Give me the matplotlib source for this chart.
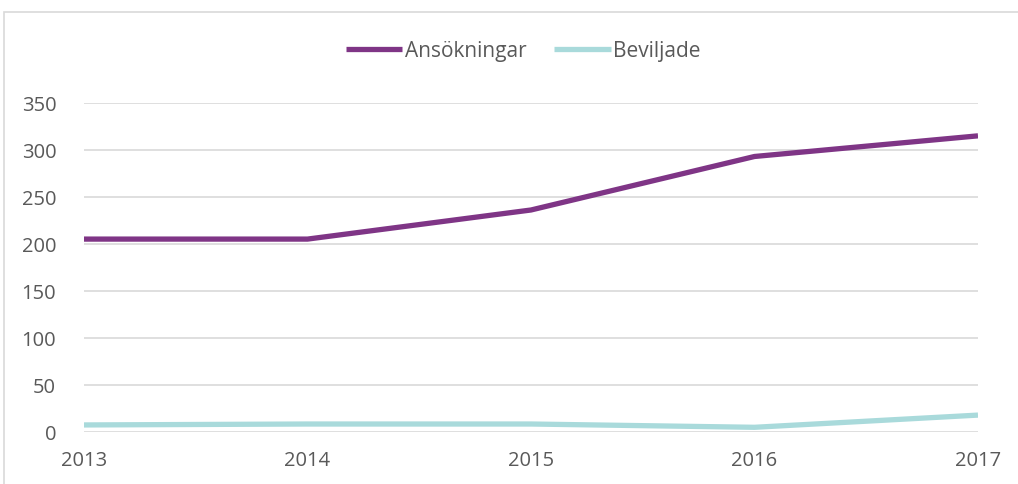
import matplotlib
matplotlib.use("Agg")
import matplotlib.pyplot as plt
from matplotlib.patches import Rectangle

years = ["2013", "2014", "2015", "2016", "2017"]
ansokningar = [205, 205, 236, 293, 315]
beviljade = [7, 8, 8, 4.5, 17.5]
yticks = [0, 50, 100, 150, 200, 250, 300, 350]

plt.rcParams['font.family'] = ['Open Sans', 'DejaVu Sans']
text_color = "#595959"

fig = plt.figure(figsize=(10.18, 4.85), dpi=100)
ax = fig.add_axes([0.0825, 0.1082, 0.9607 - 0.0825, 0.7856 - 0.1082])

x = list(range(len(years)))
ax.plot(x, ansokningar, color="#7F3586", lw=3.8, label="Ansökningar", solid_capstyle="butt", zorder=3)
ax.plot(x, beviljade, color="#A9DADB", lw=3.8, label="Beviljade", solid_capstyle="butt", zorder=3)

ax.set_xlim(0, len(years) - 1)
ax.set_ylim(0, 350)
ax.set_yticks(yticks)
ax.set_xticks(x)
ax.set_xticklabels(years)
ax.grid(axis="y", color="#D9D9D9", lw=1.2)
ax.set_axisbelow(True)
for s in ax.spines.values():
    s.set_visible(False)
ax.tick_params(axis="both", length=0, labelsize=14.5, colors=text_color)
ax.tick_params(axis="y", pad=20)
ax.tick_params(axis="x", pad=13)

leg = fig.legend(loc="center", bbox_to_anchor=(0.514, 0.893), ncol=2, frameon=False,
                 fontsize=15, handlelength=2.7, columnspacing=1.35, handletextpad=0.12)
for t in leg.get_texts():
    t.set_color(text_color)

fig.patches.append(Rectangle((4 / 1018, -0.01), 1.02, 1 - 13 / 485 + 0.01, transform=fig.transFigure,
                             fill=False, edgecolor="#D9D9D9", lw=1.2))

fig.savefig("out.png", dpi=100)
